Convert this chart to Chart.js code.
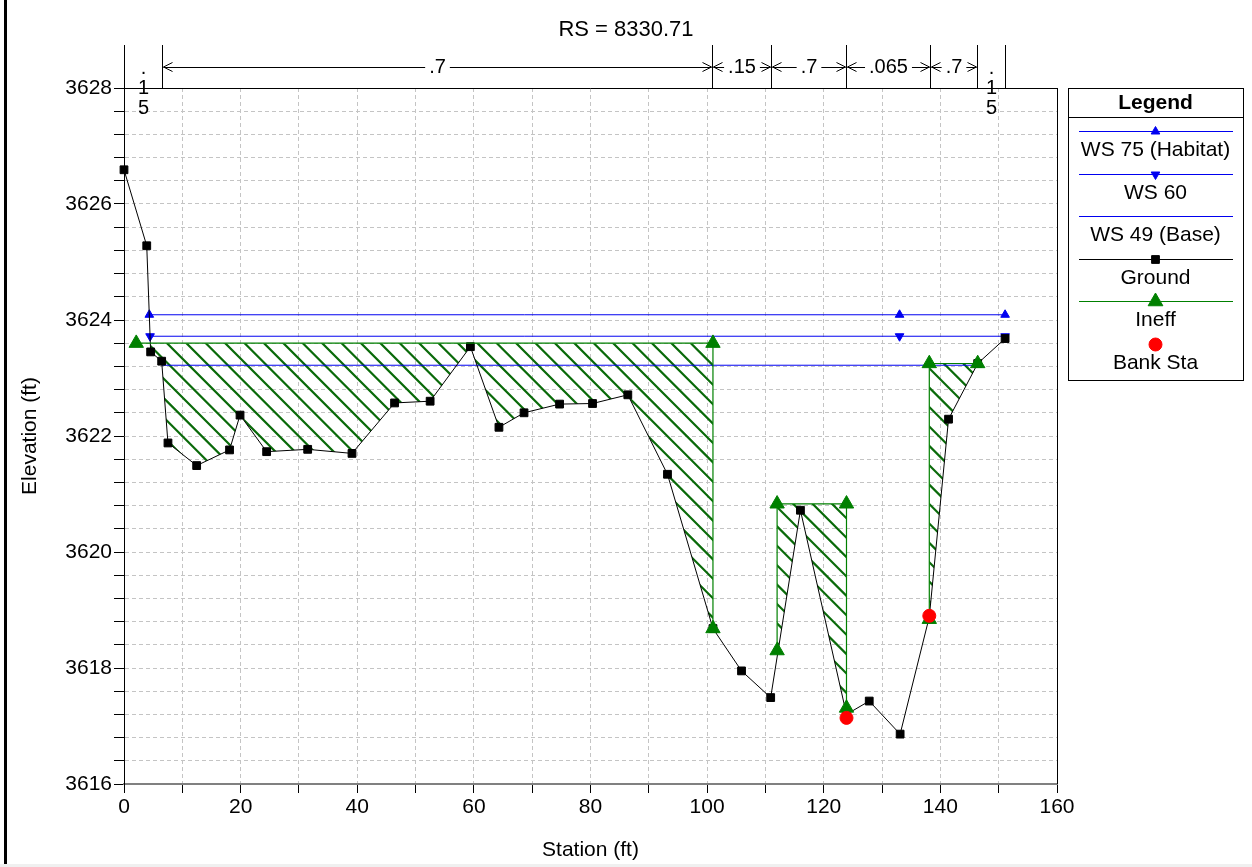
<!DOCTYPE html>
<html>
<head>
<meta charset="utf-8">
<script src="https://cdn.jsdelivr.net/npm/chart.js@4.4.1/dist/chart.umd.min.js"></script>
<style>
  html, body { margin: 0; padding: 0; background: #fff; overflow: hidden; }
  canvas { display: block; }
</style>
</head>
<body>
<canvas id="xs" width="1252" height="867"></canvas>
<script>
// values
var groundSta  = [0, 3.9, 4.57, 6.46, 7.54, 12.46, 18.1, 19.9, 24.46, 31.5, 39.1, 46.4, 52.5, 59.4, 64.3, 68.6, 74.7, 80.35, 86.4, 93.2, 101.0, 105.9, 110.9, 116.0, 123.9, 127.8, 133.1, 138.1, 141.4, 146.4, 151.1];
var groundElev = [3626.59, 3625.28, 3623.45, 3623.29, 3621.88, 3621.49, 3621.76, 3622.36, 3621.73, 3621.77, 3621.70, 3622.57, 3622.60, 3623.54, 3622.15, 3622.40, 3622.55, 3622.56, 3622.71, 3621.34, 3618.68, 3617.95, 3617.49, 3620.72, 3617.20, 3617.43, 3616.86, 3618.88, 3622.29, 3623.25, 3623.68];

var ws75Sta = [4.34, 133.0, 151.1];
var ws75Elev = 3624.09;
var ws60Sta = [4.47, 133.0, 151.1];
var ws60Elev = 3623.72;
var ws49Sta = [6.5, 146.2];
var ws49Elev = 3623.22;

// ineffective flow areas
var ineffLeft      = [2.1, 112.0, 138.1];
var ineffRight     = [101.0, 123.9, 146.4];
var ineffElev      = [3623.6, 3620.83, 3623.25];
var ineffLeftFoot  = [null, 3618.3, 3618.84];
var ineffRightFoot = [3618.68, 3617.31, null];

var bankSta  = [123.9, 138.1];
var bankElev = [3617.14, 3618.90];

// manning's n breaks along the top
var nBreaks = [0, 6.5, 100.9, 110.9, 123.9, 138.2, 146.3, 151.1];
var nValues = ['.15', '.7', '.15', '.7', '.065', '.7', '.15'];

var FONT = '"Liberation Sans", Arial, sans-serif';
var BLUE = '#0000f0', GREEN = '#008000', HATCH = '#0a6a0a';

function pts(xs, ys) {
  return xs.map(function (x, i) { return { x: x, y: Array.isArray(ys) ? ys[i] : ys }; });
}

function groundAt(st) {
  for (var i = 0; i < groundSta.length - 1; i++) {
    if (st >= groundSta[i] && st <= groundSta[i + 1]) {
      var t = (st - groundSta[i]) / (groundSta[i + 1] - groundSta[i]);
      return groundElev[i] + t * (groundElev[i + 1] - groundElev[i]);
    }
  }
  return groundElev[groundElev.length - 1];
}

var datasets = [];
datasets.push({
  label: 'Bank Sta', data: pts(bankSta, bankElev), showLine: false,
  pointStyle: 'circle', pointRadius: 6.5, pointBackgroundColor: '#ff0000', pointBorderColor: '#ff0000', pointBorderWidth: 1, order: 0
});
ineffLeft.forEach(function (l, i) {
  var d = [];
  if (ineffLeftFoot[i] !== null) d.push({ x: l, y: ineffLeftFoot[i] });
  d.push({ x: l, y: ineffElev[i] });
  d.push({ x: ineffRight[i], y: ineffElev[i] });
  if (ineffRightFoot[i] !== null) d.push({ x: ineffRight[i], y: ineffRightFoot[i] });
  datasets.push({
    label: 'Ineff', data: d, showLine: true, borderColor: GREEN, borderWidth: 1.2,
    pointStyle: 'triangle', pointRadius: 8.3, pointBackgroundColor: GREEN, pointBorderColor: GREEN, pointBorderWidth: 1, order: 1
  });
});
datasets.push({
  label: 'Ground', data: pts(groundSta, groundElev), showLine: true, borderColor: '#000', borderWidth: 1,
  pointStyle: 'rect', pointRadius: 5.5, pointBackgroundColor: '#000', pointBorderColor: '#000', pointBorderWidth: 1, order: 2
});
datasets.push({
  label: 'WS 49 (Base)', data: pts(ws49Sta, ws49Elev), showLine: true, borderColor: BLUE, borderWidth: 1,
  pointRadius: 0, order: 3
});
datasets.push({
  label: 'WS 60', data: pts(ws60Sta, ws60Elev), showLine: true, borderColor: BLUE, borderWidth: 1,
  pointStyle: 'triangle', pointRotation: 180, pointRadius: 5, pointBackgroundColor: BLUE, pointBorderColor: BLUE, order: 4
});
datasets.push({
  label: 'WS 75 (Habitat)', data: pts(ws75Sta, ws75Elev), showLine: true, borderColor: BLUE, borderWidth: 1,
  pointStyle: 'triangle', pointRadius: 5, pointBackgroundColor: BLUE, pointBorderColor: BLUE, order: 5
});
datasets.forEach(function (d) { d.clip = false; });

// hatching inside the ineffective areas, between the area top and the ground
var hatchPlugin = {
  id: 'hatch',
  beforeDatasetsDraw: function (chart) {
    var ctx = chart.ctx, xs = chart.scales.x, ys = chart.scales.y, area = chart.chartArea;
    for (var i = 0; i < ineffLeft.length; i++) {
      var x0 = xs.getPixelForValue(ineffLeft[i]), x1 = xs.getPixelForValue(ineffRight[i]);
      var yTop = ys.getPixelForValue(ineffElev[i]);
      ctx.save();
      ctx.beginPath();
      ctx.rect(x0, yTop, x1 - x0, area.bottom - yTop);
      ctx.clip();
      ctx.beginPath();
      ctx.moveTo(x0, yTop);
      ctx.lineTo(x1, yTop);
      ctx.lineTo(x1, ys.getPixelForValue(groundAt(ineffRight[i])));
      for (var k = groundSta.length - 1; k >= 0; k--) {
        if (groundSta[k] < ineffRight[i] && groundSta[k] > ineffLeft[i]) {
          ctx.lineTo(xs.getPixelForValue(groundSta[k]), ys.getPixelForValue(groundElev[k]));
        }
      }
      ctx.lineTo(x0, ys.getPixelForValue(groundAt(ineffLeft[i])));
      ctx.closePath();
      ctx.clip();
      ctx.strokeStyle = HATCH;
      ctx.lineWidth = 2.2;
      ctx.beginPath();
      var h = area.bottom - area.top;
      for (var c = area.left - h - 40; c < area.right + 40; c += 19.4) {
        ctx.moveTo(c, area.top);
        ctx.lineTo(c + h, area.bottom);
      }
      ctx.stroke();
      ctx.restore();
    }
  }
};

function marker(ctx, style, x, y, r, rot, color) {
  ctx.fillStyle = color;
  ctx.strokeStyle = color;
  ctx.lineWidth = 1;
  if (Chart.helpers && Chart.helpers.drawPoint) {
    Chart.helpers.drawPoint(ctx, { pointStyle: style, radius: r, rotation: rot || 0, borderWidth: 1 }, x, y);
  }
}

var framePlugin = {
  id: 'frame',
  afterDraw: function (chart) {
    var ctx = chart.ctx, xs = chart.scales.x, area = chart.chartArea;
    ctx.save();
    // top and right plot border
    ctx.strokeStyle = '#000';
    ctx.lineWidth = 1;
    ctx.beginPath();
    ctx.moveTo(area.left, area.top + 0.5);
    ctx.lineTo(area.right, area.top + 0.5);
    ctx.moveTo(area.right + 0.5, area.top);
    ctx.lineTo(area.right + 0.5, area.bottom);
    ctx.stroke();

    // n values
    var yLine = 67;
    ctx.font = '20px ' + FONT;
    ctx.fillStyle = '#000';
    ctx.textBaseline = 'middle';
    ctx.textAlign = 'center';
    ctx.beginPath();
    nBreaks.forEach(function (b) {
      var x = Math.round(xs.getPixelForValue(b)) + 0.5;
      ctx.moveTo(x, 45);
      ctx.lineTo(x, area.top);
    });
    ctx.stroke();
    for (var i = 0; i < nValues.length; i++) {
      var a = Math.round(xs.getPixelForValue(nBreaks[i])) + 0.5;
      var b = Math.round(xs.getPixelForValue(nBreaks[i + 1])) + 0.5;
      var w = ctx.measureText(nValues[i]).width;
      var cx = (a + b) / 2;
      if (b - a < w + 22) {
        nValues[i].split('').forEach(function (ch, k) { ctx.fillText(ch, cx, 68 + 20 * k); });
      } else {
        ctx.fillText(nValues[i], cx, yLine);
        ctx.beginPath();
        ctx.moveTo(a + 10, yLine - 4.5); ctx.lineTo(a + 1, yLine); ctx.lineTo(a + 10, yLine + 4.5);
        ctx.moveTo(b - 10, yLine - 4.5); ctx.lineTo(b - 1, yLine); ctx.lineTo(b - 10, yLine + 4.5);
        if (cx - w / 2 - 4 > a + 2) { ctx.moveTo(a + 1, yLine + 0.5); ctx.lineTo(cx - w / 2 - 4, yLine + 0.5); }
        if (b - 2 > cx + w / 2 + 4) { ctx.moveTo(cx + w / 2 + 4, yLine + 0.5); ctx.lineTo(b - 1, yLine + 0.5); }
        ctx.stroke();
      }
    }

    // title
    ctx.font = '22px ' + FONT;
    ctx.fillText('RS = 8330.71', 626, 30);

    // legend
    var lx = 1068, lw = 175, ly = 88, lh = 292, mid = lx + lw / 2;
    ctx.strokeStyle = '#000';
    ctx.strokeRect(lx + 0.5, ly + 0.5, lw, lh);
    ctx.beginPath();
    ctx.moveTo(lx, 117.5); ctx.lineTo(lx + lw, 117.5);
    ctx.stroke();
    ctx.font = 'bold 21px ' + FONT;
    ctx.fillText('Legend', mid, 103);
    var items = [
      { label: 'WS 75 (Habitat)', color: BLUE, line: true, style: 'triangle', r: 5, rot: 0 },
      { label: 'WS 60', color: BLUE, line: true, style: 'triangle', r: 5, rot: 180 },
      { label: 'WS 49 (Base)', color: BLUE, line: true, style: null },
      { label: 'Ground', color: '#000', line: true, style: 'rect', r: 5.5, rot: 0 },
      { label: 'Ineff', color: GREEN, line: true, style: 'triangle', r: 8.5, rot: 0 },
      { label: 'Bank Sta', color: '#ff0000', line: false, style: 'circle', r: 6.5, rot: 0 }
    ];
    ctx.font = '21px ' + FONT;
    items.forEach(function (it, k) {
      var y = Math.round(131 + k * 42.6) + 0.5;
      if (it.line) {
        ctx.strokeStyle = it.color;
        ctx.lineWidth = 1;
        ctx.beginPath();
        ctx.moveTo(lx + 11, y); ctx.lineTo(lx + lw - 10, y);
        ctx.stroke();
      }
      if (it.style) marker(ctx, it.style, mid, y, it.r, it.rot, it.color);
      ctx.fillStyle = '#000';
      ctx.fillText(it.label, mid, y + 19);
    });

    // window edge
    ctx.fillStyle = '#000';
    ctx.fillRect(4, 0, 3, 864);
    ctx.fillStyle = '#f0f0f0';
    ctx.fillRect(0, 864, 1252, 3);
    ctx.restore();
  }
};

function isMultiple(v, step) {
  return Math.abs(v - Math.round(v / step) * step) < 1e-6;
}

new Chart(document.getElementById('xs'), {
  type: 'scatter',
  data: { datasets: datasets },
  options: {
    responsive: false,
    animation: false,
    devicePixelRatio: 1,
    layout: { padding: { left: 0, top: 88, right: 195, bottom: 0 } },
    plugins: { legend: { display: false }, tooltip: { enabled: false }, title: { display: false } },
    scales: {
      x: {
        type: 'linear', min: 0, max: 160,
        afterFit: function (s) { s.height = 83; },
        ticks: {
          stepSize: 10, maxTicksLimit: 100, autoSkip: false, maxRotation: 0, padding: 2,
          color: '#000', font: { family: FONT, size: 21 },
          callback: function (v) { return isMultiple(v, 20) ? String(v) : ''; }
        },
        grid: { color: '#c4c4c4', tickColor: '#000', tickLength: 9, tickBorderDash: [] },
        border: { color: '#808080', width: 2, dash: [4, 3] },
        title: { display: true, text: 'Station (ft)', color: '#000', font: { family: FONT, size: 21 }, padding: { top: 0, bottom: 4 } }
      },
      y: {
        type: 'linear', min: 3616, max: 3628,
        afterFit: function (s) { s.width = 124; },
        ticks: {
          stepSize: 0.4, maxTicksLimit: 100, autoSkip: false, padding: 2,
          color: '#000', font: { family: FONT, size: 21 },
          callback: function (v) { return isMultiple(v, 2) ? String(Math.round(v)) : ''; }
        },
        grid: { color: '#c4c4c4', tickColor: '#000', tickLength: 10, tickBorderDash: [] },
        border: { color: '#000', width: 1, dash: [4, 3] },
        title: { display: true, text: 'Elevation (ft)', color: '#000', font: { family: FONT, size: 21 }, padding: { top: 18, bottom: 0 } }
      }
    }
  },
  plugins: [hatchPlugin, framePlugin]
});
</script>
</body>
</html>
